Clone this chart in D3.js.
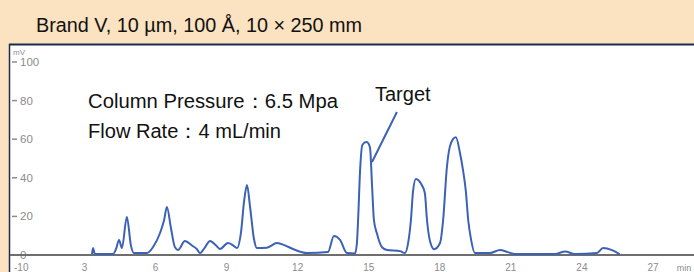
<!DOCTYPE html>
<html>
<head>
<meta charset="utf-8">
<script src="https://cdn.jsdelivr.net/npm/d3@7"></script>
<style>
  html, body { margin: 0; padding: 0; background: #fbe2c1; }
  svg { display: block; }
</style>
</head>
<body>
<svg id="chart" width="694" height="272"></svg>
<script>
// chromatogram trace: retention time (min) / signal (mV)
const times = [3.32, 3.36, 3.44, 4.2, 4.33, 4.46, 4.58, 4.79, 4.96, 5.09, 5.64, 5.89, 6.19, 6.36, 6.48, 6.65, 6.82, 6.95,
    7.24, 7.54, 7.75, 7.88, 8.09, 8.3, 8.55, 8.72, 9.06, 9.27, 9.44, 9.61, 9.74, 9.86, 9.99, 10.16, 10.28,
    10.7, 11.13, 11.46, 11.8, 12.4, 13.28, 13.53, 13.79, 14.08, 14.42, 14.5, 14.55, 14.64, 14.73, 14.9, 15.0,
    15.06, 15.14, 15.22, 15.35, 15.56, 15.77, 16.32, 16.53, 16.66, 16.78, 16.87, 16.99, 17.12, 17.25, 17.37,
    17.46, 17.59, 17.76, 18.01, 18.14, 18.3, 18.47, 18.68, 18.85, 18.98, 19.1, 19.2, 19.32, 19.48, 20.12,
    20.54, 20.87, 21.17, 22.86, 23.29, 23.7, 24.63, 24.89, 25.27, 25.6];
const signal = [0.5, 3.6, 0.5, 0.5, 3, 7.8, 3.6, 19.7, 5, 1, 1, 4, 11.4, 18, 24.9, 14, 4, 2.6,
    7.3, 4.9, 3, 1, 4, 7.3, 5, 3.1, 6.2, 5, 3.6, 12, 28, 36.3, 25, 8, 3.6,
    3.8, 6.2, 5, 3.1, 1, 1.5, 9.8, 7.8, 1, 0.8, 6, 18, 45, 57, 58.5, 57.5,
    55, 36, 18, 11, 4, 2.6, 2, 1, 6, 18, 33, 39.4, 38.5, 36, 32,
    18, 7, 3, 6.2, 18, 45.6, 58, 61, 53, 44, 33, 18, 8, 1, 1,
    2.6, 1.5, 0.5, 0.5, 1.8, 0.5, 1, 3.6, 2.5, 0.3];

const yTicks = [-10, 0, 20, 40, 60, 80, 100];
const xTicks = [3, 6, 9, 12, 15, 18, 21, 24, 27];

const title = "Brand V, 10 µm, 100 Å, 10 × 250 mm";
const notes = ["Column Pressure：6.5 Mpa", "Flow Rate：4 mL/min"];
const noteWidths = [250, 193];
const target = {label: "Target", from: [16.19, 74.1], to: [15.14, 48.2]};

const colors = {
    trace: '#3b62b6',
    baseline: '#6e6e6e',
    border: '#1c2c4e',
    tick: '#8c8c8c'
};

const svg = d3.select("#chart");
const font = "'Liberation Sans', Arial, sans-serif";

const x = d3.scaleLinear().domain([0, 27]).range([13.4, 653]);
const y = d3.scaleLinear().domain([0, 100]).range([255, 62]);

// title
svg.append("text")
    .attr("x", 36).attr("y", 32)
    .attr("font-family", font).attr("font-size", 19.6)
    .attr("fill", "#111")
    .attr("textLength", 326).attr("lengthAdjust", "spacingAndGlyphs")
    .text(title);

// white plot panel with dark top/left edge
svg.append("rect")
    .attr("x", 9).attr("y", 44).attr("width", 694 - 9).attr("height", 272 - 44)
    .attr("fill", "#fff");
svg.append("line")
    .attr("x1", 9).attr("x2", 694).attr("y1", 44.5).attr("y2", 44.5)
    .attr("stroke", colors.border).attr("stroke-width", 2);
svg.append("line")
    .attr("x1", 9.5).attr("x2", 9.5).attr("y1", 44).attr("y2", 272)
    .attr("stroke", colors.border).attr("stroke-width", 1.5);

// y axis ticks (short dashes + gray labels)
const yAxis = svg.append("g").attr("font-family", font).attr("fill", colors.tick);
yTicks.forEach(v => {
    if (v >= 0) {
        yAxis.append("line")
            .attr("x1", 12).attr("x2", 17).attr("y1", y(v)).attr("y2", y(v))
            .attr("stroke", colors.tick).attr("stroke-width", 1.5);
    }
    yAxis.append("text")
        .attr("x", v < 0 ? 14 : 20).attr("y", v < 0 ? 271 : y(v) + 4)
        .attr("font-size", v < 0 ? 10 : 11.5)
        .text(v);
});
yAxis.append("text")
    .attr("x", 13).attr("y", 55).attr("font-size", 8).text("mV");

// x tick labels along the bottom edge
const xAxis = svg.append("g").attr("font-family", font).attr("fill", colors.tick)
    .attr("font-size", 10).attr("text-anchor", "middle");
xTicks.forEach(t => {
    xAxis.append("text").attr("x", x(t)).attr("y", 271).text(t);
});
xAxis.append("text").attr("x", 684).attr("y", 271).attr("font-size", 9).text("min");

// zero baseline
svg.append("line")
    .attr("x1", 10).attr("x2", 694).attr("y1", y(0)).attr("y2", y(0))
    .attr("stroke", colors.baseline).attr("stroke-width", 2);

// trace
const pts = times.map((t, i) => [t, signal[i]]);
const line = d3.line()
    .x(d => x(d[0]))
    .y(d => y(d[1]))
    .curve(d3.curveMonotoneX);
svg.append("path")
    .datum(pts)
    .attr("d", line)
    .attr("fill", "none")
    .attr("stroke", colors.trace)
    .attr("stroke-width", 2)
    .attr("stroke-linejoin", "round");

// run conditions
notes.forEach((s, i) => {
    svg.append("text")
        .attr("x", 88).attr("y", 108 + i * 30)
        .attr("font-family", font).attr("font-size", 20)
        .attr("fill", "#111")
        .attr("textLength", noteWidths[i]).attr("lengthAdjust", "spacingAndGlyphs")
        .text(s);
});

// target annotation
svg.append("text")
    .attr("x", 375).attr("y", 101)
    .attr("font-family", font).attr("font-size", 20)
    .attr("fill", "#111")
    .text(target.label);
svg.append("line")
    .attr("x1", x(target.from[0])).attr("y1", y(target.from[1]))
    .attr("x2", x(target.to[0])).attr("y2", y(target.to[1]))
    .attr("stroke", colors.trace).attr("stroke-width", 2);
</script>
</body>
</html>
